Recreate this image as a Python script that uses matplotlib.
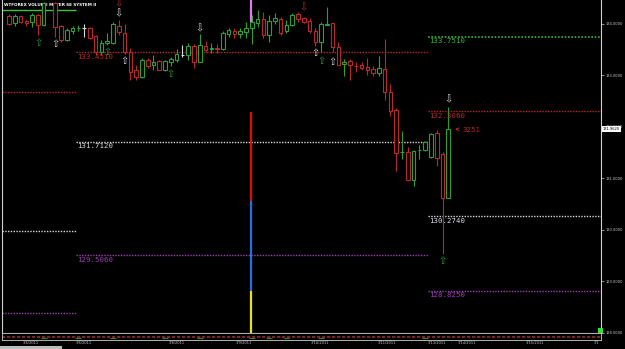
import numpy as np
import matplotlib
matplotlib.use("Agg")
import matplotlib.pyplot as plt
from matplotlib.patches import Rectangle

# OHLC of each bar (bar 7 is the weekend gap)
opens = [134.155, 134.019, 134.155, 134.058, 134.039, 134.175, 133.981, np.nan,
         134.408, 133.961, 133.689, 133.864, 133.913, 133.922, 133.922, 133.767,
         133.456, 133.631, 133.631, 133.961, 133.825, 133.456, 133.107, 132.971,
         133.301, 133.204, 133.282, 133.107, 133.262, 133.301, 133.398, 133.398,
         133.573, 133.262, 133.573, 133.524, 133.534, 133.515, 133.806, 133.864,
         133.806, 133.845, 133.922, 134.019, 134.097, 133.786, 134.058, 134.097,
         133.864, 133.981, 134.194, 134.116, 134.058, 133.864, 133.650, 133.981,
         134.019, 133.553, 133.223, 133.282, 133.184, 133.204, 133.165, 133.126,
         133.048, 133.126, 132.680, 132.330, 131.505, 131.515, 130.971, 131.544,
         131.553, 131.417, 131.884, 131.476, 130.621]
highs = [134.194, 134.194, 134.175, 134.078, 134.214, 134.194, 134.427, np.nan,
         134.427, 133.981, 133.922, 133.961, 133.981, 134.000, 133.942, 133.786,
         133.689, 133.825, 134.039, 134.078, 134.000, 133.534, 133.204, 133.340,
         133.340, 133.398, 133.301, 133.301, 133.359, 133.515, 133.592, 133.631,
         133.612, 133.806, 133.670, 133.631, 133.612, 133.864, 133.922, 133.922,
         133.922, 134.039, 134.175, 134.272, 134.233, 134.175, 134.214, 134.136,
         134.078, 134.214, 134.233, 134.136, 134.116, 133.922, 134.039, 134.330,
         134.019, 133.650, 133.320, 133.320, 133.262, 133.262, 133.340, 133.184,
         133.379, 133.709, 132.835, 132.369, 131.922, 131.612, 131.553, 131.650,
         131.728, 131.884, 131.942, 131.515, 132.388]
lows = [133.981, 133.961, 134.019, 133.961, 133.942, 133.786, 133.961, np.nan,
        133.748, 133.650, 133.670, 133.806, 133.864, 133.748, 133.709, 133.398,
        133.398, 133.592, 133.612, 133.786, 133.417, 132.913, 132.913, 132.951,
        133.146, 133.107, 133.107, 133.087, 133.184, 133.262, 133.359, 133.301,
        133.146, 133.262, 133.456, 133.437, 133.437, 133.495, 133.748, 133.728,
        133.728, 133.728, 133.612, 133.942, 133.728, 133.650, 134.000, 133.786,
        133.825, 133.961, 134.039, 134.019, 133.825, 133.573, 133.456, 133.981,
        133.456, 133.204, 132.990, 132.913, 133.068, 133.107, 133.010, 132.990,
        132.990, 132.524, 132.214, 131.146, 131.379, 130.971, 130.854, 131.379,
        131.534, 131.398, 131.243, 129.534, 130.621]
closes = [134.000, 134.155, 134.039, 134.019, 134.175, 133.981, 134.408, np.nan,
          133.942, 133.689, 133.883, 133.922, 133.922, 133.922, 133.728, 133.456,
          133.631, 133.670, 134.000, 133.845, 133.456, 133.068, 132.971, 133.301,
          133.184, 133.262, 133.107, 133.282, 133.320, 133.417, 133.398, 133.573,
          133.262, 133.592, 133.495, 133.534, 133.524, 133.825, 133.883, 133.806,
          133.864, 133.922, 134.039, 134.097, 133.786, 134.058, 134.116, 133.825,
          133.981, 134.175, 134.097, 134.039, 133.864, 133.650, 134.000, 134.000,
          133.553, 133.204, 133.262, 133.204, 133.175, 133.146, 133.107, 133.048,
          133.146, 132.680, 132.311, 131.495, 131.515, 130.971, 131.534, 131.553,
          131.709, 131.864, 131.398, 130.621, 131.962]

# support / resistance levels
left_levels = [132.680, 129.980, 128.390]
mid_levels = [133.451, 131.712, 129.506]
mid_labels = ["133.4510", "131.7120", "129.5060"]
right_levels = [133.751, 132.306, 130.274, 128.825]
right_labels = ["133.7510", "132.3060", "130.2740", "128.8250"]
top_level = 134.272

# volume meter bar (price bands)
meter_bar = 41.9
meter_bands = [(134.04, 134.47), (130.563, 132.291), (128.816, 130.563), (127.86, 128.816)]

# signal arrows: bar, price, direction
up_bars = [5, 8, 17, 20, 28, 53, 54, 56, 75]
up_prices = [133.63, 133.61, 133.456, 133.28, 133.03, 133.437, 133.28, 133.26, 129.40]
up_white = [False, True, False, True, False, True, False, True, False]
down_bars = [19, 19, 33, 51, 76]
down_prices = [134.214, 134.41, 133.92, 134.33, 132.54]
down_red = [False, True, False, True, False]

date_labels = ["3/4/2011", "3/6/2011", "3/8/2011", "3/9/2011", "3/10/2011",
               "3/11/2011", "3/13/2011", "3/14/2011", "3/15/2011", "3/1"]
date_bars = [3.8, 13.0, 29.0, 40.7, 53.8, 65.4, 74.0, 79.2, 91.0, 101.7]

yticks = [128, 129, 130, 131, 132, 133, 134]
last_price = closes[-1]

RED = "#b82a2a"
GREEN = "#2f9e36"
WHITE = "#d8d8e0"
MAG = "#a03cb4"
XL = (-1.21, 102.42)

fig = plt.figure(figsize=(6.25, 3.49), dpi=100)
fig.patch.set_facecolor("black")
ax = fig.add_axes([2 / 625, 16 / 349, 599 / 625, 333 / 349])
ax.set_facecolor("black")
ax.set_xlim(*XL)
ax.set_ylim(128.0, 134.466)

for i in range(len(opens)):
    o, h, l, c = opens[i], highs[i], lows[i], closes[i]
    if np.isnan(o):
        continue
    col = GREEN if c > o else (RED if c < o else WHITE)
    ax.vlines(i, l, h, color=col, lw=0.8, zorder=3)
    ax.add_patch(Rectangle((i - 0.31, min(o, c)), 0.62, max(abs(c - o), 0.004),
                           facecolor="black", edgecolor=col, lw=0.8, zorder=4))

dots = (0, (1, 1))
ax.hlines(top_level, XL[0], 11.6, color="#3cc43c", lw=1)
for p, col in zip(left_levels, [RED, WHITE, MAG]):
    ax.hlines(p, XL[0], 11.6, color=col, lw=1, ls=dots)
for p, lab, col in zip(mid_levels, mid_labels, [RED, WHITE, MAG]):
    ax.hlines(p, 11.6, 72.5, color=col, lw=1, ls=dots)
    ax.annotate(lab, (11.7, p), xytext=(0, -1.2), textcoords="offset points",
                va="top", ha="left", color=col, fontsize=5.3, family="DejaVu Sans Mono")
for p, lab, col in zip(right_levels, right_labels, ["#3cb43c", RED, WHITE, MAG]):
    ax.hlines(p, 72.5, XL[1], color=col, lw=1.2 if col == "#3cb43c" else 1, ls=dots)
    ax.annotate(lab, (72.6, p), xytext=(0, -1.2), textcoords="offset points",
                va="top", ha="left", color=col, fontsize=5.3, family="DejaVu Sans Mono")

for (lo, hi), col in zip(meter_bands, ["#e07ae8", "#e00a0a", "#2a6ee0", "#e8e020"]):
    ax.vlines(meter_bar, lo, hi, color=col, lw=1.6, zorder=5, clip_on=False)

for b, p, w in zip(up_bars, up_prices, up_white):
    ax.text(b, p, "\u21e7", color=WHITE if w else GREEN, fontsize=7,
            ha="center", va="center", zorder=6)
for b, p, r in zip(down_bars, down_prices, down_red):
    ax.text(b, p, "\u21e9", color=RED if r else WHITE, fontsize=7,
            ha="center", va="center", zorder=6)

ax.annotate("3251", xy=(76.7, last_price), xytext=(78.4, last_price - 0.02),
            color=RED, fontsize=5.3, family="DejaVu Sans Mono", va="center",
            arrowprops=dict(arrowstyle="->", color=RED, lw=0.7))

ax.yaxis.tick_right()
ax.set_yticks(yticks)
ax.set_yticklabels([f"{t:.4f}" for t in yticks])
ax.tick_params(axis="y", colors="#c8c8c8", labelsize=2.6, length=2, width=0.5, pad=1)
ax.set_xticks([])
for s in ["top"]:
    ax.spines[s].set_visible(False)
for s in ["left", "right", "bottom"]:
    ax.spines[s].set_color("#d0d0d0")
    ax.spines[s].set_linewidth(0.8)

ax.text(1.003, last_price, f"{last_price:.4f}", transform=ax.get_yaxis_transform(),
        fontsize=2.6, color="black", va="center", ha="left",
        bbox=dict(boxstyle="square,pad=0.25", fc="white", ec="none"), clip_on=False)

ax.text(0.003, 0.992, "WTFOREX VOLUME METER SE SYSTEM II", transform=ax.transAxes,
        color="white", fontsize=3, fontweight="bold", va="top", ha="left")

# volume strip
axv = fig.add_axes([2 / 625, 9 / 349, 599 / 625, 7 / 349])
axv.set_facecolor("black")
axv.set_xlim(*XL)
axv.set_ylim(0, 1)
axv.axhline(0.5, color="#8a3030", lw=1.2, ls=(0, (2, 1)))
for i in range(len(opens)):
    if not np.isnan(opens[i]) and closes[i] > opens[i] and i % 3 == 0:
        axv.hlines(0.3, i - 0.5, i + 0.5, color="#3a7a3a", lw=0.8)
axv.set_yticks([])
axv.set_xticks(date_bars)
axv.set_xticklabels(date_labels)
axv.tick_params(axis="x", colors="#c8c8c8", labelsize=2.6, length=0, pad=1)
for s in axv.spines.values():
    s.set_color("#d0d0d0")
    s.set_linewidth(0.6)

fig.patches.append(Rectangle((0, 0), 62 / 625, 3 / 349, transform=fig.transFigure,
                             facecolor="#bdbdbd", edgecolor="none"))
fig.patches.append(Rectangle((598 / 625, 16 / 349), 5 / 625, 5 / 349, transform=fig.transFigure,
                             facecolor="#30e030", edgecolor="none"))

fig.savefig("out.png", dpi=100, facecolor="black")
